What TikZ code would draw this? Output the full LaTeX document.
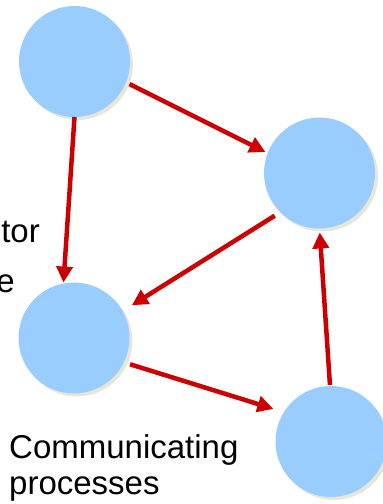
\documentclass[tikz,border=0pt]{standalone}
\usepackage{fontspec}
\setmainfont{Liberation Sans}
\usetikzlibrary{arrows.meta}
\definecolor{procfill}{RGB}{153,204,255}
\definecolor{procshadow}{RGB}{232,230,216}
\definecolor{msgred}{RGB}{204,0,0}
\begin{document}
\begin{tikzpicture}[x=1pt,y=-1pt,
  proc/.style={circle, fill=procfill, minimum size=111pt, inner sep=0pt, outer sep=0pt},
  procshade/.style={circle, fill=procshadow, minimum size=111pt, inner sep=0pt},
  msg/.style={draw=msgred, line width=4.5pt, -{Triangle[length=16pt,width=16pt]}},
  lbl/.style={font=\fontsize{33}{38}\selectfont, inner sep=0pt}]
\useasboundingbox (0,0) rectangle (383,504);
\clip (0,0) rectangle (383,504);

% soft shadows behind the processes
\node[procshade] at (77.5,64.5) {};
\node[procshade] at (322.5,176) {};
\node[procshade] at (77,341) {};
\node[procshade] at (334,444.5) {};

% processes
\node[proc] (A) at (74.5,61.5) {};
\node[proc] (B) at (319.5,173) {};
\node[proc] (C) at (74,338) {};
\node[proc] (D) at (331,441.5) {};

% labels
\node[lbl, anchor=base east] (t1) at (40,242) {tor};
\node[lbl, anchor=base east] (t2) at (15,292) {e};
\node[lbl, anchor=base west] (cp1) at (9,458) {Communicating};
\node[lbl, anchor=base west] (cp2) at (9,494) {processes};

% messages
\draw[msg, shorten <=4pt, shorten >=2.5pt] (A.-22) -- (B.159);
\draw[msg, shorten >=1pt] (A.-90) -- (C.101);
\draw[msg, shorten <=6.5pt, shorten >=11pt] (B.225) -- (C.29);
\draw[msg, shorten <=6.5pt, shorten >=11pt] (C.-26) -- (D.148);
\draw[msg, shorten <=1pt, shorten >=4pt] (D.91) -- (B.-90);
\end{tikzpicture}
\end{document}
